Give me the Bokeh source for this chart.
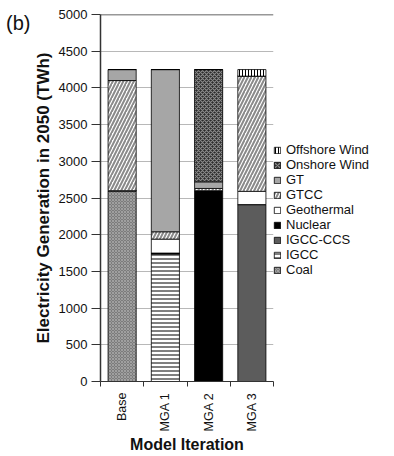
import numpy as np
from bokeh.plotting import figure
from bokeh.models import (Range1d, FixedTicker, Legend, LegendItem, Span,
                          LinearAxis, ColumnDataSource)
from bokeh.embed import file_html
from bokeh.resources import INLINE

# ---- data (TWh) ----
iterations = ["Base", "MGA 1", "MGA 2", "MGA 3"]
technologies = ["Coal", "IGCC", "IGCC-CCS", "Nuclear", "Geothermal",
                "GTCC", "GT", "Onshore Wind", "Offshore Wind"]
coal = [2600, 0, 0, 0]
igcc = [0, 1740, 0, 0]
igcc_ccs = [0, 0, 0, 2410]
nuclear = [0, 10, 2600, 0]
geothermal = [0, 190, 0, 180]
gtcc = [1500, 100, 30, 1570]
gt = [150, 2210, 90, 0]
onshore_wind = [0, 0, 1530, 0]
offshore_wind = [0, 0, 0, 90]
y_ticks = [0, 500, 1000, 1500, 2000, 2500, 3000, 3500, 4000, 4500, 5000]
panel_tag = "(b)"

series = [coal, igcc, igcc_ccs, nuclear, geothermal, gtcc, gt, onshore_wind, offshore_wind]

# ---- styles ----
fills = ["#7c7c7c", "#ffffff", "#5c5c5c", "#000000", "#ffffff",
         "#ffffff", "#a6a6a6", "#2a2a2a", "#ffffff"]
hatches = ["diagonal_cross", "horizontal_line", " ", " ", " ",
           "right_diagonal_line", " ", "diagonal_cross", "vertical_line"]
hatch_colors = ["#a4a4a4", "#000000", "#000000", "#000000", "#000000",
                "#8a8a8a", "#000000", "#8a8a8a", "#000000"]
hatch_scales = [3, 4, 6, 6, 6, 7, 6, 4, 3]
hatch_weights = [0.9, 1, 1, 1, 1, 2, 1, 1.2, 1]

n = len(iterations)
xpos = list(np.arange(n) + 0.5)
data = {"x": xpos}
for t, s in zip(technologies, series):
    data[t] = s
source = ColumnDataSource(data)

p = figure(frame_width=173, frame_height=367, output_backend="svg", toolbar_location=None,
           x_range=Range1d(0, n), y_range=Range1d(y_ticks[0], y_ticks[-1]),
           min_border_left=100, min_border_right=0, min_border_top=14,
           min_border_bottom=75)
p.outline_line_color = None
p.background_fill_color = "white"
p.border_fill_color = "white"

renderers = p.vbar_stack(technologies, x="x", width=0.65, source=source,
                         fill_color=fills, line_color="#000000", line_width=0.8,
                         hatch_pattern=hatches, hatch_color=hatch_colors,
                         hatch_scale=hatch_scales, hatch_weight=hatch_weights)

# ---- axes ----
xa = p.xaxis[0]
xa.ticker = FixedTicker(ticks=xpos, minor_ticks=list(np.arange(n + 1)))
xa.major_label_overrides = {float(x): lab for x, lab in zip(xpos, iterations)}
xa.major_tick_line_color = None
xa.major_tick_out = 0
xa.major_tick_in = 0
xa.minor_tick_out = 5
xa.minor_tick_in = 0
xa.minor_tick_line_color = "#333333"
xa.major_label_orientation = np.pi / 2
xa.major_label_text_font = "Liberation Sans"
xa.major_label_text_font_size = "12.5px"
xa.major_label_text_color = "#111111"
xa.major_label_standoff = 6
xa.axis_label = "Model Iteration"
xa.axis_label_text_font = "Liberation Sans"
xa.axis_label_text_font_style = "bold"
xa.axis_label_text_font_size = "16px"
xa.axis_label_text_color = "#111111"
xa.axis_label_standoff = 2
xa.axis_line_color = "#333333"

ya = p.yaxis[0]
ya.ticker = FixedTicker(ticks=y_ticks)
ya.minor_tick_line_color = None
ya.major_tick_out = 9
ya.major_tick_in = 0
ya.major_tick_line_color = "#333333"
ya.major_label_text_font = "Liberation Sans"
ya.major_label_text_font_size = "13px"
ya.major_label_text_color = "#111111"
ya.major_label_standoff = 4
ya.axis_label = "Electricity Generation in 2050 (TWh)"
ya.axis_label_text_font = "Liberation Sans"
ya.axis_label_text_font_style = "bold"
ya.axis_label_text_font_size = "17px"
ya.axis_label_text_color = "#111111"
ya.axis_label_standoff = 3
ya.axis_line_color = "#333333"
ya.axis_line_width = 1.5

# panel tag "(b)" drawn as the single label of an outer left axis
tag_at = y_ticks[-1] - 120
tag_axis = LinearAxis(ticker=FixedTicker(ticks=[tag_at]),
                      major_label_overrides={float(tag_at): panel_tag},
                      axis_line_color=None, major_tick_line_color=None,
                      minor_tick_line_color=None, major_tick_out=0, major_tick_in=0,
                      major_label_standoff=0,
                      major_label_text_font="Liberation Sans",
                      major_label_text_font_size="20px",
                      major_label_text_color="#111111")
p.add_layout(tag_axis, "left")

p.xgrid.grid_line_color = None
p.ygrid.grid_line_color = "#b8b8b8"
p.ygrid.grid_line_width = 1
p.ygrid.ticker = FixedTicker(ticks=y_ticks)

p.add_layout(Span(location=y_ticks[-1], dimension="width",
                  line_color="#333333", line_width=1.5))

# ---- legend (reversed order) ----
items = [LegendItem(label=t, renderers=[r]) for t, r in zip(technologies, renderers)]
legend = Legend(items=items[::-1], location=(0, 104),
                label_text_font="Liberation Sans", label_text_font_size="13px",
                label_text_color="#111111", glyph_width=8, glyph_height=8,
                label_height=13, spacing=0, padding=2, margin=10,
                border_line_color=None, background_fill_alpha=0,
                label_standoff=5)
p.add_layout(legend, "right")

open("out.html", "w").write(file_html(p, INLINE))
